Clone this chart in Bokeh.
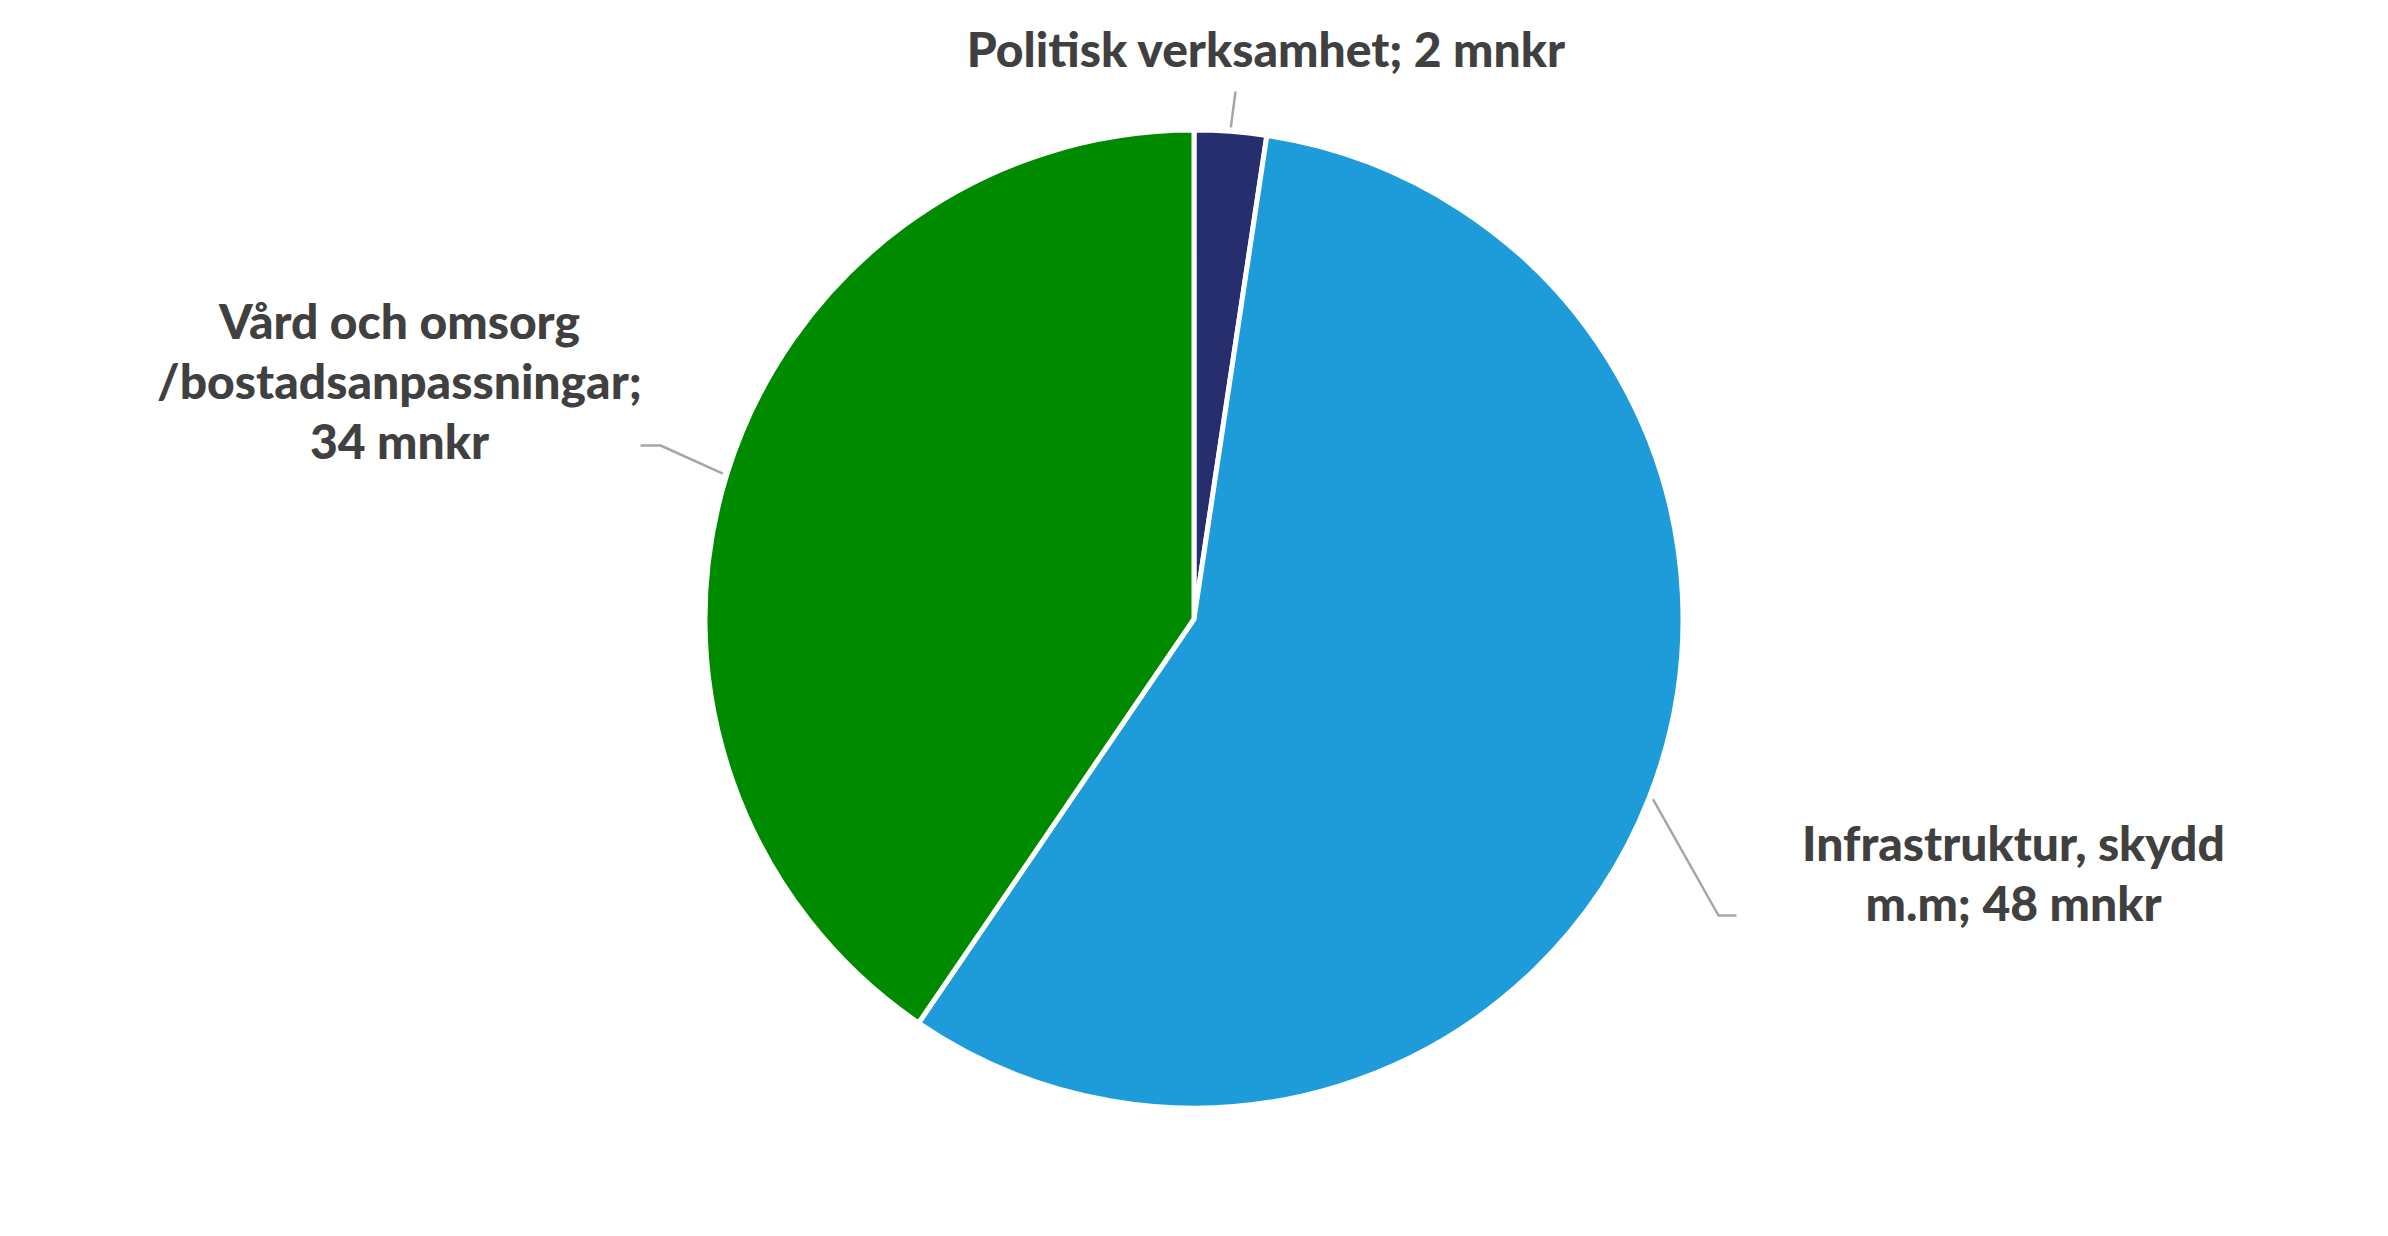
import math
from bokeh.plotting import figure
from bokeh.models import Range1d
from bokeh.core.properties import value
from bokeh.embed import file_html
from bokeh.resources import INLINE

# ---- data ----
categories = ["Politisk verksamhet", "Infrastruktur, skydd m.m", "Vård och omsorg /bostadsanpassningar"]
values_mnkr = [2, 48, 34]
labels = ["Politisk verksamhet; 2 mnkr",
          "Infrastruktur, skydd\nm.m; 48 mnkr",
          "Vård och omsorg\n/bostadsanpassningar;\n34 mnkr"]
colors = ["#262E6E", "#1E9CD9", "#008A00"]

# ---- layout ----
W, H = 2372, 1220

def to_data(X, Y):
    return X, H - Y

CX, CY = to_data(1193.5, 618.5)
R = 489

p = figure(width=W, height=H, output_backend="svg", toolbar_location=None,
           x_range=Range1d(0, W), y_range=Range1d(0, H), min_border=0)
p.axis.visible = False
p.grid.visible = False
p.outline_line_color = None
p.background_fill_color = "white"
p.border_fill_color = "white"

total = sum(values_mnkr)
starts, ends, mids = [], [], []
cum = 0
for v in values_mnkr:
    a0 = math.pi / 2 - cum / total * 2 * math.pi
    cum += v
    a1 = math.pi / 2 - cum / total * 2 * math.pi
    starts.append(a0)
    ends.append(a1)
    mids.append((a0 + a1) / 2)

p.wedge(x=CX, y=CY, radius=R, start_angle=starts, end_angle=ends,
        direction="clock", fill_color=colors, line_color="white", line_width=5)

# label placement (screen coords) and leader elbows
label_pos = [to_data(1266, 48), to_data(2013, 872), to_data(399, 380)]
elbows = [[to_data(1235, 91)],
          [to_data(1718, 915), to_data(1736, 915)],
          [to_data(660, 445), to_data(640, 445)]]

for m, el in zip(mids, elbows):
    sx = CX + (R + 4) * math.cos(m)
    sy = CY + (R + 4) * math.sin(m)
    xs = [sx] + [e[0] for e in el]
    ys = [sy] + [e[1] for e in el]
    p.line(xs, ys, line_color="#A6A6A6", line_width=2.5)

p.text(x=[lp[0] for lp in label_pos], y=[lp[1] for lp in label_pos], text=labels,
       text_align="center", text_baseline="middle",
       text_font=value("Lato Black, Lato"), text_font_style="bold",
       text_font_size="48px", text_color="#404040", text_line_height=1.05)

open("out.html", "w").write(file_html(p, INLINE))
